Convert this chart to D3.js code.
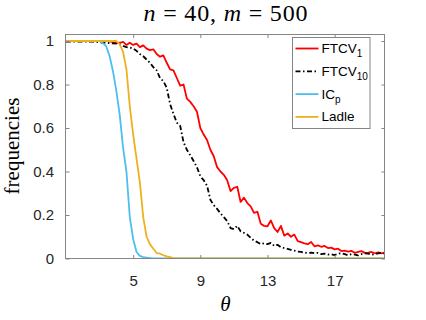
<!DOCTYPE html>
<html>
<head>
<meta charset="utf-8">
<script src="https://cdn.jsdelivr.net/npm/d3@7"></script>
<style>
  body { margin: 0; background: #fff; }
  svg { display: block; }
</style>
</head>
<body>
<script>
// theta grid (step 0.2)
const theta = [1.0, 1.2, 1.4, 1.6, 1.8, 2.0, 2.2, 2.4, 2.6, 2.8, 3.0, 3.2, 3.4, 3.6, 3.8, 4.0,
  4.2, 4.4, 4.6, 4.8, 5.0, 5.2, 5.4, 5.6, 5.8, 6.0, 6.2, 6.4, 6.6, 6.8, 7.0, 7.2, 7.4, 7.6, 7.8, 8.0,
  8.2, 8.4, 8.6, 8.8, 9.0, 9.2, 9.4, 9.6, 9.8, 10.0, 10.2, 10.4, 10.6, 10.8, 11.0, 11.2, 11.4, 11.6,
  11.8, 12.0, 12.2, 12.4, 12.6, 12.8, 13.0, 13.2, 13.4, 13.6, 13.8, 14.0, 14.2, 14.4, 14.6, 14.8,
  15.0, 15.2, 15.4, 15.6, 15.8, 16.0, 16.2, 16.4, 16.6, 16.8, 17.0, 17.2, 17.4, 17.6, 17.8, 18.0,
  18.2, 18.4, 18.6, 18.8, 19.0, 19.2, 19.4, 19.6, 19.8, 20.0]

const ftcv1 = [1, 1, 1, 1, 1, 1, 1, 1, 1, 1, 1, 1, 1, 0.998, 0.995, 0.99,
  0.992, 0.996, 0.982, 0.992, 0.982, 0.988, 0.972, 0.98, 0.965, 0.958, 0.962, 0.94, 0.928, 0.934, 0.9, 0.87, 0.865, 0.83, 0.795, 0.8,
  0.735, 0.72, 0.7, 0.675, 0.6, 0.57, 0.545, 0.5, 0.47, 0.42, 0.4, 0.385, 0.36, 0.31, 0.325, 0.33, 0.26, 0.28,
  0.255, 0.24, 0.21, 0.215, 0.16, 0.15, 0.148, 0.175, 0.14, 0.122, 0.15, 0.105, 0.115, 0.1, 0.11, 0.08,
  0.075, 0.07, 0.066, 0.076, 0.056, 0.06, 0.054, 0.058, 0.048, 0.05, 0.042, 0.045, 0.034, 0.036, 0.032, 0.035,
  0.026, 0.03, 0.034, 0.026, 0.027, 0.03, 0.024, 0.028, 0.024, 0.028]

const ftcv10 = [0.997, 0.997, 0.997, 0.997, 0.997, 0.997, 0.997, 0.997, 0.997, 0.996, 0.994, 0.992, 0.993, 0.99, 0.989, 0.988,
  0.985, 0.978, 0.972, 0.97, 0.965, 0.955, 0.94, 0.93, 0.915, 0.9, 0.88, 0.865, 0.83, 0.815, 0.785, 0.71, 0.665, 0.625, 0.61, 0.535,
  0.5, 0.475, 0.448, 0.42, 0.378, 0.36, 0.335, 0.27, 0.245, 0.228, 0.208, 0.19, 0.172, 0.14, 0.135, 0.15, 0.125, 0.118,
  0.11, 0.095, 0.082, 0.075, 0.066, 0.07, 0.066, 0.072, 0.058, 0.063, 0.052, 0.048, 0.044, 0.04, 0.036, 0.032,
  0.03, 0.027, 0.025, 0.027, 0.024, 0.026, 0.02, 0.022, 0.018, 0.02, 0.016, 0.022, 0.025, 0.02, 0.015, 0.02,
  0.018, 0.014, 0.02, 0.024, 0.022, 0.018, 0.02, 0.024, 0.026, 0.022]

const icp = [1, 1, 1, 1, 1, 1, 1, 1, 1, 1, 1, 0.99, 0.975, 0.93, 0.86, 0.77,
  0.66, 0.51, 0.4, 0.19, 0.09, 0.03, 0.012, 0.006, 0.004, 0.002, 0, 0, 0, 0, 0, 0, 0, 0, 0, 0,
  0, 0, 0, 0, 0, 0, 0, 0, 0, 0, 0, 0, 0, 0, 0, 0, 0, 0,
  0, 0, 0, 0, 0, 0, 0, 0, 0, 0, 0, 0, 0, 0, 0, 0,
  0, 0, 0, 0, 0, 0, 0, 0, 0, 0, 0, 0, 0, 0, 0, 0,
  0, 0, 0, 0, 0, 0, 0, 0, 0, 0]

const ladle = [1, 1, 1, 1, 1, 1, 1, 1, 1, 1, 1, 1, 1, 1, 1, 1,
  0.985, 0.95, 0.87, 0.7, 0.57, 0.46, 0.35, 0.19, 0.1, 0.066, 0.045, 0.025, 0.022, 0.015, 0.01, 0.006, 0.002, 0, 0, 0,
  0, 0, 0, 0, 0, 0, 0, 0, 0, 0, 0, 0, 0, 0, 0, 0, 0, 0,
  0, 0, 0, 0, 0, 0, 0, 0, 0, 0, 0, 0, 0, 0, 0, 0,
  0, 0, 0, 0, 0, 0, 0, 0, 0, 0, 0, 0, 0, 0, 0, 0,
  0, 0, 0, 0, 0, 0, 0, 0, 0, 0]

const xTicks = [5, 9, 13, 17]
const yTicks = [0, 0.2, 0.4, 0.6, 0.8, 1]
const yTickLabels = ['0', '0.2', '0.4', '0.6', '0.8', '1']

const seriesNames = ['FTCV', 'FTCV', 'IC', 'Ladle']
const seriesSubs = ['1', '10', 'p', '']
const seriesValues = [ftcv1, ftcv10, icp, ladle]
const seriesColors = ['#ff0000', '#000000', '#4dbeee', '#edb120']
const seriesDash = [null, '5,2.5,1.5,2.5', null, null]

let width = 426
let height = 320
let margin = { top: 34.5, bottom: 61.5, left: 66, right: 41 }
const axisColor = '#262626'
const frameColor = '#858585'
const sans = 'Helvetica, Arial, "Liberation Sans", sans-serif'
const serif = '"Liberation Serif", "Times New Roman", serif'

const svg = d3.select("body")
  .append("svg")
  .attr("width", width)
  .attr("height", height)

const x = d3.scaleLinear()
  .domain([1, 20])
  .range([margin.left, width - margin.right])

const y = d3.scaleLinear()
  .domain([0, 1.03])
  .range([height - margin.bottom, margin.top])

const x0 = x.range()[0], x1 = x.range()[1]
const y0 = y.range()[0], y1 = y.range()[1]

svg.append("defs").append("clipPath").attr("id", "clip")
  .append("rect")
  .attr("x", x0).attr("y", y1)
  .attr("width", x1 - x0).attr("height", y0 - y1)

// lines
const line = d3.line()
  .x((d, i) => x(theta[i]))
  .y(d => y(d))

const plot = svg.append("g").attr("clip-path", "url(#clip)")
seriesValues.forEach((vals, k) => {
  plot.append("path")
    .datum(vals)
    .attr("d", line)
    .attr("fill", "none")
    .attr("stroke", seriesColors[k])
    .attr("stroke-width", 1.8)
    .attr("stroke-linejoin", "round")
    .attr("stroke-dasharray", seriesDash[k])
})

// axes (ticks pointing inward, box on)
svg.append("g")
  .attr('transform', `translate(0,${y0})`)
  .call(d3.axisBottom(x).tickValues(xTicks).tickSizeInner(-3.5).tickSizeOuter(0).tickPadding(17))
  .call(g => g.select(".domain").remove())
  .call(g => g.selectAll("line").attr("stroke", frameColor))
  .call(g => g.selectAll("text").attr("font-family", sans).attr("font-size", 15).attr("fill", axisColor))

svg.append("g")
  .attr('transform', `translate(0,${y1})`)
  .call(d3.axisTop(x).tickValues(xTicks).tickSizeInner(-3.5).tickSizeOuter(0).tickFormat(''))
  .call(g => g.select(".domain").remove())
  .call(g => g.selectAll("line").attr("stroke", frameColor))

svg.append("g")
  .attr('transform', `translate(${x0},0)`)
  .call(d3.axisLeft(y).tickValues(yTicks).tickSizeInner(-3.5).tickSizeOuter(0).tickPadding(12)
    .tickFormat((d, i) => yTickLabels[i]))
  .call(g => g.select(".domain").remove())
  .call(g => g.selectAll("line").attr("stroke", frameColor))
  .call(g => g.selectAll("text").attr("font-family", sans).attr("font-size", 15).attr("fill", axisColor))

svg.append("g")
  .attr('transform', `translate(${x1},0)`)
  .call(d3.axisRight(y).tickValues(yTicks).tickSizeInner(-3.5).tickSizeOuter(0).tickFormat(''))
  .call(g => g.select(".domain").remove())
  .call(g => g.selectAll("line").attr("stroke", frameColor))

svg.append("rect")
  .attr("x", x0 - 0.5).attr("y", y1)
  .attr("width", x1 - x0).attr("height", y0 - y1)
  .attr("fill", "none")
  .attr("stroke", frameColor)
  .attr("stroke-width", 1)

// title
const title = svg.append("text")
  .attr("x", (x0 + x1) / 2)
  .attr("y", 21)
  .attr("text-anchor", "middle")
  .attr("font-family", serif)
  .attr("font-size", 24)
  .attr("textLength", 164)
  .attr("lengthAdjust", "spacing")
  .attr("fill", "#000")
title.append("tspan").attr("font-style", "italic").text("n")
title.append("tspan").text(" = 40, ")
title.append("tspan").attr("font-style", "italic").text("m")
title.append("tspan").text(" = 500")

// axis labels
svg.append("text")
  .attr("x", (x0 + x1) / 2)
  .attr("y", 311)
  .attr("text-anchor", "middle")
  .attr("font-family", serif)
  .attr("font-style", "italic")
  .attr("font-size", 21)
  .text("θ")

svg.append("text")
  .attr("transform", `translate(19,146) rotate(-90)`)
  .attr("text-anchor", "middle")
  .attr("font-family", serif)
  .attr("font-size", 21)
  .text("frequencies")

// legend
const legend = svg.append("g").attr("transform", "translate(292.5,37.5)")
legend.append("rect")
  .attr("width", 77.5).attr("height", 91)
  .attr("fill", "#fff")
  .attr("stroke", frameColor)
  .attr("stroke-width", 1)

seriesNames.forEach((name, k) => {
  const ry = 11 + k * 22.8
  legend.append("line")
    .attr("x1", 3).attr("x2", 26)
    .attr("y1", ry).attr("y2", ry)
    .attr("stroke", seriesColors[k])
    .attr("stroke-width", 1.8)
    .attr("stroke-dasharray", seriesDash[k])
  const t = legend.append("text")
    .attr("x", 29)
    .attr("y", ry + 4.5)
    .attr("font-family", sans)
    .attr("font-size", 13.5)
    .attr("fill", "#000")
    .text(name)
  if (seriesSubs[k]) {
    t.append("tspan")
      .attr("dy", 4)
      .attr("font-size", 10)
      .text(seriesSubs[k])
  }
})
</script>
</body>
</html>
